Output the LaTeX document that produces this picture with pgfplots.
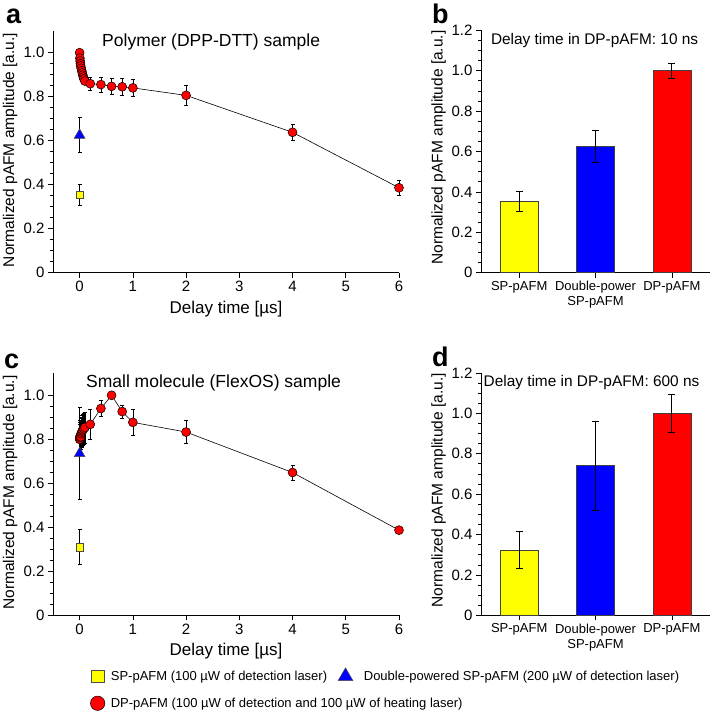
\documentclass[border=0pt]{standalone}
\usepackage{fontspec}
\setmainfont{Liberation Sans}
\usepackage{pgfplots}
\pgfplotsset{compat=1.18}
\definecolor{cyel}{RGB}{255,255,0}
\definecolor{cblu}{RGB}{0,0,255}
\definecolor{cred}{RGB}{255,0,0}

\pgfplotsset{
 common/.style={
  scale only axis,
  axis x line*=bottom, axis y line*=left,
  tick align=outside,
  major tick length=5pt, minor tick length=3pt,
  every tick/.style={black, line width=0.6pt},
  axis line style={black, line width=0.8pt},
  /pgf/number format/assume math mode=true,
  tick label style={font=\fontsize{15}{15}\selectfont},
  ylabel={Normalized pAFM amplitude [a.u.]},
  ylabel style={font=\fontsize{15.5}{15.5}\selectfont, anchor=center},
  clip=false,
  minor y tick num=3,
 },
 scat/.style={common, width=346pt, height=242pt,
  xmin=-0.5, xmax=6, ymin=0, ymax=1.1,
  xtick={0,1,2,3,4,5,6},
  ytick={0,0.2,0.4,0.6,0.8,1.0}, yticklabels={0,0.2,0.4,0.6,0.8,1.0},
  xlabel={Delay time [µs]},
  xlabel style={font=\fontsize{17}{17}\selectfont, at={(axis description cs:0.5,-0.15)}, anchor=center},
  ylabel style={at={(axis description cs:-0.124,0.507)}},
 },
 bars/.style={common, width=229pt, height=242.4pt,
  xmin=-0.5, xmax=2.5, ymin=0, ymax=1.2,
  xtick={0,1,2}, xticklabels={SP-pAFM,{Double-power\\SP-pAFM},DP-pAFM},
  xticklabel style={align=center, font=\fontsize{13}{15}\selectfont},
  ytick={0,0.2,0.4,0.6,0.8,1.0,1.2}, yticklabels={0,0.2,0.4,0.6,0.8,1.0,1.2},
  ylabel style={at={(axis description cs:-0.1856,0.516)}},
 },
 ebs/.style={error bars/.cd, y dir=both, y explicit,
  error bar style={black, line width=0.6pt},
  error mark options={rotate=90, black, mark size=2pt, line width=0.6pt}},
 ebb/.style={error bars/.cd, y dir=both, y explicit,
  error bar style={black, line width=1pt},
  error mark options={rotate=90, black, mark size=3.5pt, line width=1pt}},
 sq/.style={only marks, mark=square*, mark size=3.8pt, mark options={fill=cyel, draw=black!70, line width=0.5pt}},
 tri/.style={only marks, mark=triangle*, mark size=6.3pt, mark options={fill=cblu, draw=black!70, line width=0.5pt}},
 dp/.style={black, line width=0.6pt, mark=*, mark size=4.5pt, mark options={fill=cred, draw=black, line width=0.5pt}},
 bar/.style={ybar, bar width=38pt, bar shift=0pt, draw=black!75, line width=0.6pt},
}

\begin{document}
\begin{tikzpicture}[x=1pt,y=1pt]
\useasboundingbox (0,0) rectangle (714,712);

% ---------------- panel a
\begin{axis}[scat, at={(53pt,439.3pt)}, anchor=south west]
\addplot[sq, ebs] coordinates {(0,0.355) += (0,0.045) -= (0,0.05)};
\addplot[tri, ebs] coordinates {(0,0.625) +- (0,0.08)};
\addplot[dp, ebs] coordinates {
(0,1.000) +- (0,0.005)
(0.005,0.975) +- (0,0.008)
(0.01,0.962) +- (0,0.008)
(0.015,0.950) +- (0,0.008)
(0.02,0.940) +- (0,0.008)
(0.03,0.929) +- (0,0.008)
(0.04,0.918) +- (0,0.008)
(0.05,0.908) +- (0,0.01)
(0.06,0.898) +- (0,0.01)
(0.07,0.889) +- (0,0.01)
(0.08,0.881) +- (0,0.01)
(0.1,0.871) +- (0,0.012)
(0.2,0.859) +- (0,0.03)
(0.4,0.855) +- (0,0.035)
(0.6,0.847) +- (0,0.038)
(0.8,0.845) +- (0,0.04)
(1.0,0.840) +- (0,0.04)
(2,0.806) +- (0,0.045)
(4,0.638) +- (0,0.036)
(6,0.386) +- (0,0.035)
};
\node[font=\fontsize{17.5}{17.5}\selectfont] at (axis description cs:0.457,0.953) {Polymer (DPP-DTT) sample};
\end{axis}

% ---------------- panel b
\begin{axis}[bars, at={(481pt,439.3pt)}, anchor=south west]
\addplot[bar, fill=cyel, ebb] coordinates {(0,0.355) += (0,0.045) -= (0,0.05)};
\addplot[bar, fill=cblu, ebb] coordinates {(1,0.627) += (0,0.078) -= (0,0.082)};
\addplot[bar, fill=cred, ebb] coordinates {(2,1.0) += (0,0.035) -= (0,0.04)};
\node[font=\fontsize{15.4}{15.4}\selectfont] at (axis description cs:0.496,0.956) {Delay time in DP-pAFM: 10 ns};
\end{axis}

% ---------------- panel c
\begin{axis}[scat, at={(53pt,96.7pt)}, anchor=south west,
  legend columns=2, legend cell align=left,
  legend style={at={(axis description cs:0.099,-0.208)}, anchor=north west, draw=none, fill=none,
    font=\fontsize{13}{13}\selectfont, row sep=12pt,
    /tikz/every even column/.append style={column sep=9pt}}]
\addplot[forget plot, sq, ebs] coordinates {(0,0.31) +- (0,0.08)};
\addplot[forget plot, tri, ebs] coordinates {(0,0.735) +- (0,0.21)};
\addplot[forget plot, dp, ebs] coordinates {
(0,0.800) +- (0,0.07)
(0.005,0.808) +- (0,0.07)
(0.01,0.815) +- (0,0.07)
(0.02,0.812) +- (0,0.07)
(0.03,0.825) +- (0,0.07)
(0.04,0.832) +- (0,0.07)
(0.05,0.838) +- (0,0.07)
(0.06,0.843) +- (0,0.07)
(0.08,0.848) +- (0,0.07)
(0.1,0.854) +- (0,0.07)
(0.2,0.868) += (0,0.067) -= (0,0.068)
(0.4,0.940) += (0,0.035) -= (0,0.035)
(0.6,1.000) +- (0,0.008)
(0.8,0.926) += (0,0.03) -= (0,0.03)
(1.0,0.877) += (0,0.058) -= (0,0.057)
(2,0.833) += (0,0.053) -= (0,0.053)
(4,0.649) += (0,0.035) -= (0,0.035)
(6,0.387) +- (0,0.005)
};
\node[font=\fontsize{17.5}{17.5}\selectfont] at (axis description cs:0.464,0.959) {Small molecule (FlexOS) sample};
\addlegendimage{only marks, mark=square*, mark size=6.3pt, mark options={fill=cyel, draw=black!70, line width=0.5pt}}
\addlegendentry{\hspace{4pt}SP-pAFM (100 µW of detection laser)}
\addlegendimage{only marks, mark=triangle*, mark size=8.5pt, mark options={fill=cblu, draw=black!70, line width=0.5pt}}
\addlegendentry{\hspace{9pt}Double-powered SP-pAFM (200 µW of detection laser)}
\addlegendimage{only marks, mark=*, mark size=7.2pt, mark options={fill=cred, draw=black, line width=0.5pt}}
\addlegendentry{\makebox[0pt][l]{\hspace{4pt}DP-pAFM (100 µW of detection and 100 µW of heating laser)}}
\end{axis}

% ---------------- panel d
\begin{axis}[bars, at={(481pt,96.7pt)}, anchor=south west]
\addplot[bar, fill=cyel, ebb] coordinates {(0,0.323) += (0,0.09) -= (0,0.09)};
\addplot[bar, fill=cblu, ebb] coordinates {(1,0.743) += (0,0.217) -= (0,0.223)};
\addplot[bar, fill=cred, ebb] coordinates {(2,1.0) += (0,0.093) -= (0,0.093)};
\node[font=\fontsize{15.4}{15.4}\selectfont] at (axis description cs:0.4825,0.961) {Delay time in DP-pAFM: 600 ns};
\end{axis}

% panel letters
\node[anchor=base west, inner sep=0pt, font=\fontsize{27}{27}\selectfont\bfseries] at (6,688.7) {a};
\node[anchor=base west, inner sep=0pt, font=\fontsize{27}{27}\selectfont\bfseries] at (432,688.7) {b};
\node[anchor=base west, inner sep=0pt, font=\fontsize{27}{27}\selectfont\bfseries] at (4,343.7) {c};
\node[anchor=base west, inner sep=0pt, font=\fontsize{27}{27}\selectfont\bfseries] at (432,345.3) {d};
\end{tikzpicture}
\end{document}
